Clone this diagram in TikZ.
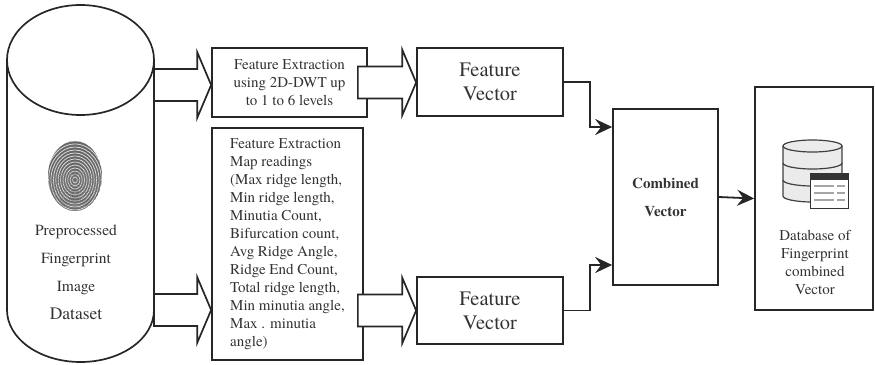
\documentclass[tikz,border=0pt]{standalone}
\usepackage{fontspec}
\setmainfont{TeX Gyre Termes}
\usetikzlibrary{arrows.meta,calc}

% hollow block arrow from #1 to the x of #2
\newcommand{\fatarrow}[2]{%
  \draw[fat] let \p1=(#1), \p2=(#2) in
    (\x1,\y1+16pt) -- (\x2-14pt,\y1+16pt) -- (\x2-14pt,\y1+33pt) -- (\x2,\y1)
    -- (\x2-14pt,\y1-33pt) -- (\x2-14pt,\y1-16pt) -- (\x1,\y1-16pt) -- cycle;}

\begin{document}
\begin{tikzpicture}
            [
            x=1pt,y=-1pt,
            box/.style={draw=black!85,line width=1.7pt,text=black!80,inner sep=0pt},
            small/.style={font=\fontsize{15}{18}\selectfont},
            big/.style={font=\fontsize{20.5}{24}\selectfont},
            link/.style={draw=black!85,line width=1.8pt,-{Stealth[length=17pt,width=16pt,inset=6pt]}},
            fat/.style={draw=black!85,fill=white,line width=1.7pt,line join=miter},
            icon/.style={fill=black!8,draw=black!75,line width=1.2pt},
            ]
            \useasboundingbox (0,0) rectangle (875,364);

            % Dataset cylinder
            \draw[draw=black!85,line width=1.7pt] (7,60) -- (7,310)
                arc[start angle=180,end angle=0,x radius=73.5,y radius=52] -- (154,60);
            \draw[draw=black!85,line width=1.7pt] (80.5,60) ellipse [x radius=73.5,y radius=55];
            \coordinate (out1) at (154,85);
            \coordinate (out2) at (154,310);

            % Fingerprint
            \begin{scope}
                \clip (75,176) ellipse [x radius=27,y radius=35];
                \fill[black!60] (75,176) ellipse [x radius=27,y radius=35];
                \foreach \r in {3,6,...,42}
                    \draw[white!85!black,line width=0.8pt] (75,180) ellipse [x radius=\r*0.8,y radius=\r];
                \foreach \r in {4,8,...,40}
                    \draw[black!45,line width=0.5pt] (75,196) ellipse [x radius=\r,y radius=\r*0.6];
            \end{scope}
            \node[align=center,text=black!80,font=\fontsize{15.5}{28}\selectfont] (dataset) at (76,272)
                {Preprocessed\\Fingerprint\\Image\\{\fontsize{17.5}{28}\selectfont Dataset}};

            % Feature extraction
            \node[box,small,minimum width=155,minimum height=69,align=center] (fe1) at (289.5,82.5)
                {Feature Extraction\\using 2D-DWT up\\to 1 to 6 levels};
            \node[box,small,minimum width=151,minimum height=232,align=left] (fe2) at (287.5,244)
                {Feature Extraction\\Map readings\\(Max ridge length,\\Min ridge length,\\Minutia Count,\\Bifurcation count,\\Avg Ridge Angle,\\Ridge End Count,\\Total ridge length,\\Min minutia angle,\\Max . minutia\\angle)};

            % Feature vectors
            \node[box,big,minimum width=146,minimum height=68,align=center] (fv1) at (490,82)
                {Feature\\Vector};
            \node[box,big,minimum width=146,minimum height=67,align=center] (fv2) at (490,310.5)
                {Feature\\Vector};

            % Combined vector
            \node[box,minimum width=105,minimum height=176,align=center,
                font=\bfseries\fontsize{15}{28}\selectfont] (comb) at (665.5,197) {Combined\\Vector};

            % Database
            \node[box,minimum width=118,minimum height=223] (db) at (814,198.5) {};
            \draw[icon] (783,146) -- (783,196)
                arc[start angle=180,end angle=0,x radius=29.5,y radius=6] -- (842,146);
            \draw[icon] (812.5,146) ellipse [x radius=29.5,y radius=6];
            \draw[draw=black!75,line width=1.2pt] (783,163) arc[start angle=180,end angle=0,x radius=29.5,y radius=6];
            \draw[draw=black!75,line width=1.2pt] (783,180) arc[start angle=180,end angle=0,x radius=29.5,y radius=6];
            \filldraw[fill=white,draw=black!80,line width=1pt] (810,173) rectangle (848,208);
            \fill[black!80] (810,173) rectangle (848,180);
            \foreach \y in {186,193,200}
                \draw[gray!70,line width=1.5pt] (814,\y) -- (834,\y) (837,\y) -- (845,\y);
            \node[small,align=center,text=black!80] (dbtext) at (815,262)
                {Database of\\Fingerprint\\combined\\Vector};

            % Block arrows
            \fatarrow{out1}{fe1.west}
            \fatarrow{out2}{fe2.west}
            \fatarrow{$(fe1.east)+(-10,0)$}{fv1.west}
            \fatarrow{$(fe2.east |- fv2.west)+(-6,0)$}{fv2.west}

            % Links
            \draw[link] (fv1.east) -- ++(26,0) |- ($(comb.west)+(0,-70)$);
            \draw[link] (fv2.east) -- ++(26,0) |- ($(comb.west)+(0,68)$);
            \draw[link] (comb.east) -- (db.west);

        \end{tikzpicture}
\end{document}
